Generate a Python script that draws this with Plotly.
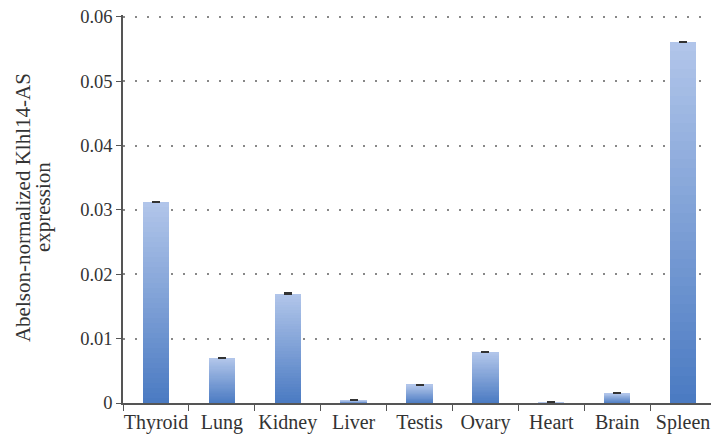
import plotly.graph_objects as go

categories = ["Thyroid", "Lung", "Kidney", "Liver", "Testis", "Ovary", "Heart", "Brain", "Spleen"]
values = [0.0312, 0.0070, 0.0170, 0.0004, 0.0028, 0.0079, 0.0001, 0.0015, 0.0561]
errors = [0.00006, 0.00005, 0.00006, 0.00004, 0.00005, 0.00005, 0.00003, 0.00005, 0.00006]
ytick_vals = [0, 0.01, 0.02, 0.03, 0.04, 0.05, 0.06]
ytick_text = ["0", "0.01", "0.02", "0.03", "0.04", "0.05", "0.06"]
ytitle_lines = ["Abelson-normalized Klhl14-AS", "expression"]

dark = (74, 122, 194)
light = (178, 198, 234)
N = 40

fig = go.Figure()
for k in range(N):
    t = (k + 0.5) / N
    c = tuple(round(dark[i] + (light[i] - dark[i]) * t) for i in range(3))
    last = k == N - 1
    fig.add_trace(go.Bar(
        x=categories,
        y=[v / N for v in values],
        width=0.4,
        marker=dict(color="rgb(%d,%d,%d)" % c, line=dict(width=0)),
        error_y=dict(type="data", array=errors, visible=last, color="#333333",
                     thickness=1.5, width=4),
        showlegend=False,
        hoverinfo="skip",
    ))

font_family = "Liberation Serif, DejaVu Serif, serif"
for line, xp in zip(ytitle_lines, [-0.1678, -0.1342]):
    fig.add_annotation(text=line, xref="paper", yref="paper", x=xp, y=0.505,
                       xanchor="center", yanchor="middle", textangle=-90,
                       showarrow=False, font=dict(size=21, color="#333333", family=font_family))

fig.update_layout(
    barmode="stack",
    width=711, height=435,
    margin=dict(l=115, r=0, t=7, b=40, autoexpand=False),
    plot_bgcolor="white", paper_bgcolor="white",
    font=dict(family=font_family, size=18, color="#333333"),
    xaxis=dict(
        range=[-0.5, 8.545], tickangle=0, automargin=False,
        showline=True, linecolor="#555555", linewidth=1.5,
        ticks="outside", tickson="boundaries", ticklen=6, tickcolor="#555555",
        showgrid=False, tickfont=dict(size=20, color="#333333"),
    ),
    yaxis=dict(
        range=[0, 0.0603], tickvals=ytick_vals, ticktext=ytick_text,
        ticklabeloverflow="allow",
        showline=True, linecolor="#555555", linewidth=1.5, automargin=False,
        ticks="outside", ticklen=5, tickcolor="#555555",
        showgrid=True, gridcolor="#888888", gridwidth=1.5, griddash="2px,10px",
        zeroline=False, tickfont=dict(size=18.5, color="#333333"),
    ),
)

fig.write_html("out.html")
